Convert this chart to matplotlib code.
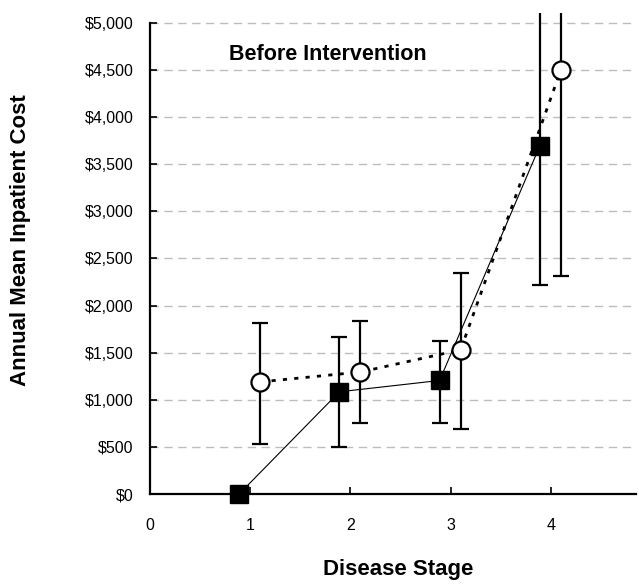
import matplotlib
matplotlib.use("Agg")
import matplotlib.pyplot as plt
import numpy as np
from matplotlib.ticker import FuncFormatter

plt.rcParams['font.family'] = ['Liberation Sans', 'DejaVu Sans']

stages = np.array([1, 2, 3, 4])

# filled squares, solid line
sq_mean = np.array([0, 1085, 1205, 3695])
sq_low = np.array([0, 496, 750, 2220])
sq_high = np.array([0, 1670, 1625, 5600])

# open circles, dotted line
circ_mean = np.array([1190, 1295, 1530, 4500])
circ_low = np.array([535, 750, 690, 2310])
circ_high = np.array([1815, 1840, 2350, 5600])

sq_x = stages - 0.11
circ_x = stages + 0.10

fig = plt.figure(figsize=(6.39, 5.85), dpi=100)
ax = fig.add_axes([150 / 639, 91 / 585, 486 / 639, 481 / 585])

ax.set_xlim(0, 4.85)
ax.set_ylim(0, 5106)
ax.set_yticks(np.arange(0, 5001, 500))
ax.set_xticks([0, 1, 2, 3, 4])
ax.yaxis.set_major_formatter(FuncFormatter(lambda v, p: '${:,.0f}'.format(v)))

ax.grid(axis='y', color='#bdbdbd', linestyle=(0, (6, 4)), linewidth=1.0, zorder=0)
ax.set_axisbelow(True)

for s in ('top', 'right'):
    ax.spines[s].set_visible(False)
for s in ('left', 'bottom'):
    ax.spines[s].set_linewidth(1.6)
ax.spines['left'].set_bounds(0, 5000)

ax.tick_params(axis='both', direction='in', length=5, width=1.2, labelsize=11.5)
ax.tick_params(axis='y', pad=12)
ax.tick_params(axis='x', pad=17)

# error bars
ax.errorbar(sq_x, sq_mean, yerr=[sq_mean - sq_low, sq_high - sq_mean],
            fmt='none', ecolor='black', elinewidth=1.6, capsize=5.5,
            capthick=1.6, zorder=2)
ax.errorbar(circ_x, circ_mean, yerr=[circ_mean - circ_low, circ_high - circ_mean],
            fmt='none', ecolor='black', elinewidth=1.6, capsize=5.5,
            capthick=1.6, zorder=2)

# connecting lines
ax.plot(sq_x, sq_mean, color='black', linewidth=0.8, zorder=3)
ax.plot(circ_x, circ_mean, color='black', linewidth=2.0,
        linestyle=(0, (1.5, 2.6)), zorder=3)

# markers
ax.plot(sq_x, sq_mean, linestyle='none', marker='s', markersize=13.5,
        markerfacecolor='black', markeredgecolor='black', zorder=4, clip_on=False)
ax.plot(circ_x, circ_mean, linestyle='none', marker='o', markersize=13,
        markerfacecolor='white', markeredgecolor='black', markeredgewidth=1.6,
        zorder=4, clip_on=False)

ax.text(0.365, 0.913, 'Before Intervention', transform=ax.transAxes,
        ha='center', va='center', fontsize=15.5, fontweight='bold')

fig.text(398 / 639, 1 - 570 / 585, 'Disease Stage', ha='center', va='center',
         fontsize=16, fontweight='bold')
fig.text(21 / 639, 1 - 240 / 585, 'Annual Mean Inpatient Cost', ha='center',
         va='center', rotation=90, fontsize=16, fontweight='bold')

fig.savefig('out.png', dpi=100)
